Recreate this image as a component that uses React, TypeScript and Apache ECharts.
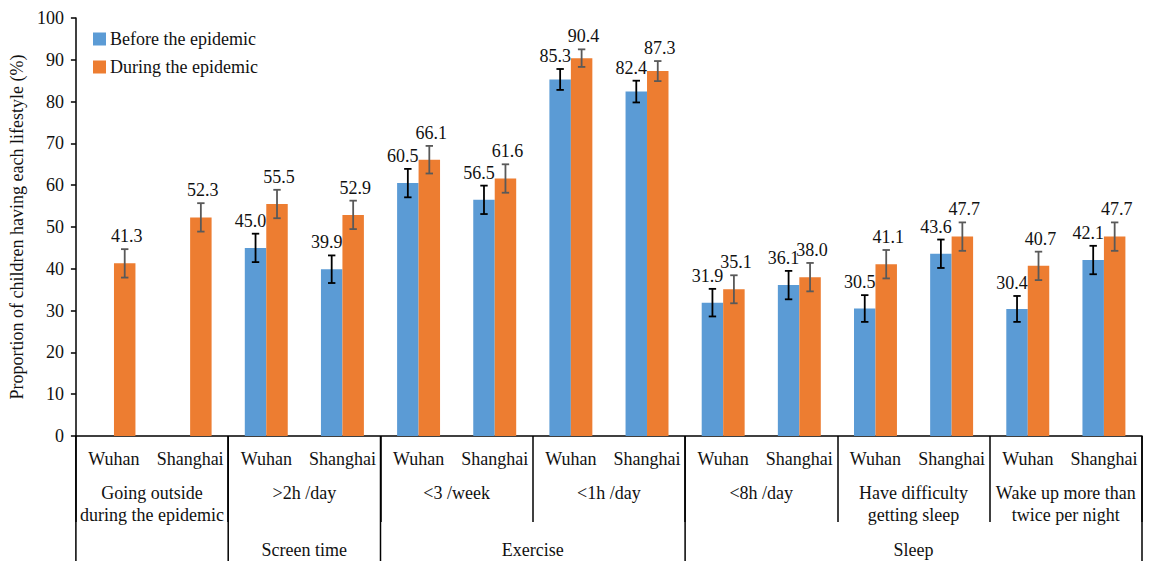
import React, { useEffect, useRef } from "react";
import * as echarts from "echarts";

const categories = [
  "Wuhan", "Shanghai", "Wuhan", "Shanghai", "Wuhan", "Shanghai", "Wuhan",
  "Shanghai", "Wuhan", "Shanghai", "Wuhan", "Shanghai", "Wuhan", "Shanghai",
];
const groups = [
  "Going outside\nduring the epidemic",
  ">2h /day",
  "<3 /week",
  "<1h /day",
  "<8h /day",
  "Have difficulty\ngetting sleep",
  "Wake up more than\ntwice per night",
];
const superGroupNames = ["", "Screen time", "Exercise", "Sleep"];
const superGroupSpans = [1, 1, 2, 3]; // number of sub-groups per super group

const seriesNames = ["Before the epidemic", "During the epidemic"];
const before = [null, null, 45.0, 39.9, 60.5, 56.5, 85.3, 82.4, 31.9, 36.1, 30.5, 43.6, 30.4, 42.1];
const during = [41.3, 52.3, 55.5, 52.9, 66.1, 61.6, 90.4, 87.3, 35.1, 38.0, 41.1, 47.7, 40.7, 47.7];
const beforeErr = [null, null, 3.4, 3.3, 3.4, 3.4, 2.5, 2.6, 3.3, 3.4, 3.2, 3.4, 3.1, 3.4];
const duringErr = [3.4, 3.4, 3.4, 3.4, 3.3, 3.4, 2.1, 2.4, 3.35, 3.4, 3.4, 3.4, 3.4, 3.4];

const FONT = '"Liberation Serif", "Times New Roman", serif';
const TEXT = "#111";
const BLUE = "#5B9BD5";
const ORANGE = "#ED7D31";

function errSeries(vals: (number | null)[], errs: (number | null)[], side: number, color: string, labelDx: number) {
  const data: number[][] = [];
  vals.forEach((v, i) => {
    if (v != null && errs[i] != null) data.push([i, v, errs[i] as number]);
  });
  return {
    type: "custom",
    z: 5,
    silent: true,
    encode: { x: 0, y: 1 },
    data,
    renderItem: (params: any, api: any) => {
      const i = api.value(0);
      const v = api.value(1);
      const e = api.value(2);
      const band = api.size([1, 0])[0];
      const c = api.coord([i, v]);
      const top = api.coord([i, v + e]);
      const bot = api.coord([i, v - e]);
      const x = c[0] + side * band * 0.141;
      const cap = 3.7;
      const ls = { stroke: color, lineWidth: 1.8 };
      return {
        type: "group",
        children: [
          { type: "line", shape: { x1: x, y1: top[1], x2: x, y2: bot[1] }, style: ls },
          { type: "line", shape: { x1: x - cap, y1: top[1], x2: x + cap, y2: top[1] }, style: ls },
          { type: "line", shape: { x1: x - cap, y1: bot[1], x2: x + cap, y2: bot[1] }, style: ls },
          {
            type: "text",
            style: {
              text: v.toFixed(1),
              x: x + labelDx,
              y: top[1] - 13,
              align: "center",
              verticalAlign: "middle",
              fontSize: 18,
              fontFamily: FONT,
              fill: TEXT,
            },
          },
        ],
      };
    },
  };
}

export default function App() {
  const ref = useRef<HTMLDivElement>(null);
  useEffect(() => {
    if (!ref.current) return;
    const chart = echarts.init(ref.current, null, { renderer: "svg" });
    const option: any = {
      animation: false,
      grid: { left: 74, right: 10, top: 18, bottom: 125, containLabel: false },
      legend: {
        data: seriesNames,
        orient: "vertical",
        left: 88,
        top: 25,
        itemWidth: 13,
        itemHeight: 13,
        itemGap: 10,
        icon: "rect",
        textStyle: { fontSize: 18, fontFamily: FONT, color: TEXT, padding: [0, 0, 0, -1] },
      },
      xAxis: [
        {
          type: "category",
          data: categories,
          position: "bottom",
          axisLine: { lineStyle: { color: "#000", width: 1.5 } },
          axisTick: { show: false },
          axisLabel: { fontSize: 18, fontFamily: FONT, color: TEXT, margin: 14, interval: 0 },
          splitLine: { show: false },
        },
        {
          type: "category",
          data: groups,
          position: "bottom",
          axisLine: { show: false },
          axisTick: { show: true, length: 86, lineStyle: { color: "#000", width: 1.5 } },
          axisLabel: { fontSize: 18, fontFamily: FONT, color: TEXT, margin: 46, lineHeight: 22, interval: 0 },
          splitLine: { show: false },
        },
      ],
      yAxis: {
        type: "value",
        min: 0,
        max: 100,
        interval: 10,
        name: "Proportion of children having each lifestyle (%)",
        nameLocation: "middle",
        nameGap: 45,
        nameTextStyle: { fontSize: 18, fontFamily: FONT, color: TEXT },
        axisLine: { show: true, lineStyle: { color: "#000", width: 1.5 } },
        axisTick: { show: true, length: 5, lineStyle: { color: "#000", width: 1.5 } },
        axisLabel: { fontSize: 18, fontFamily: FONT, color: TEXT, margin: 12 },
        splitLine: { show: false },
      },
      series: [
        {
          name: seriesNames[0],
          type: "bar",
          data: before,
          barWidth: "28.2%",
          barGap: "0%",
          itemStyle: { color: BLUE },
        },
        {
          name: seriesNames[1],
          type: "bar",
          data: during,
          barWidth: "28.2%",
          barGap: "0%",
          itemStyle: { color: ORANGE },
        },
        errSeries(before, beforeErr, -1, "#000", -5),
        errSeries(during, duringErr, 1, "#595959", 2),
      ],
    };
    chart.setOption(option);

    // Super-group separators and labels, positioned through the axis scale
    const p0 = chart.convertToPixel({ xAxisIndex: 0 }, 0) as number;
    const p1 = chart.convertToPixel({ xAxisIndex: 0 }, 1) as number;
    const band = p1 - p0;
    const xLeft = p0 - band / 2;
    const y0 = chart.convertToPixel({ yAxisIndex: 0 }, 0) as number;
    const H = 561;
    const graphic: any[] = [];
    let g = 0;
    const boundaries: number[] = [0];
    superGroupNames.forEach((name, k) => {
      const start = g * 2;
      g += superGroupSpans[k];
      const end = g * 2;
      boundaries.push(end);
      if (name) {
        graphic.push({
          type: "text",
          style: {
            text: name,
            x: xLeft + ((start + end) / 2) * band,
            y: 550,
            align: "center",
            verticalAlign: "middle",
            fontSize: 18,
            fontFamily: FONT,
            fill: TEXT,
          },
        });
      }
    });
    boundaries.forEach((b) => {
      const x = xLeft + b * band;
      graphic.push({
        type: "line",
        shape: { x1: x, y1: y0, x2: x, y2: H },
        style: { stroke: "#000", lineWidth: 1.5 },
      });
    });
    chart.setOption({ graphic });

    return () => chart.dispose();
  }, []);
  return (
    <div
      ref={ref}
      style={{ position: "absolute", left: 0, top: 0, width: 1152, height: 561, background: "#fff" }}
    />
  );
}
